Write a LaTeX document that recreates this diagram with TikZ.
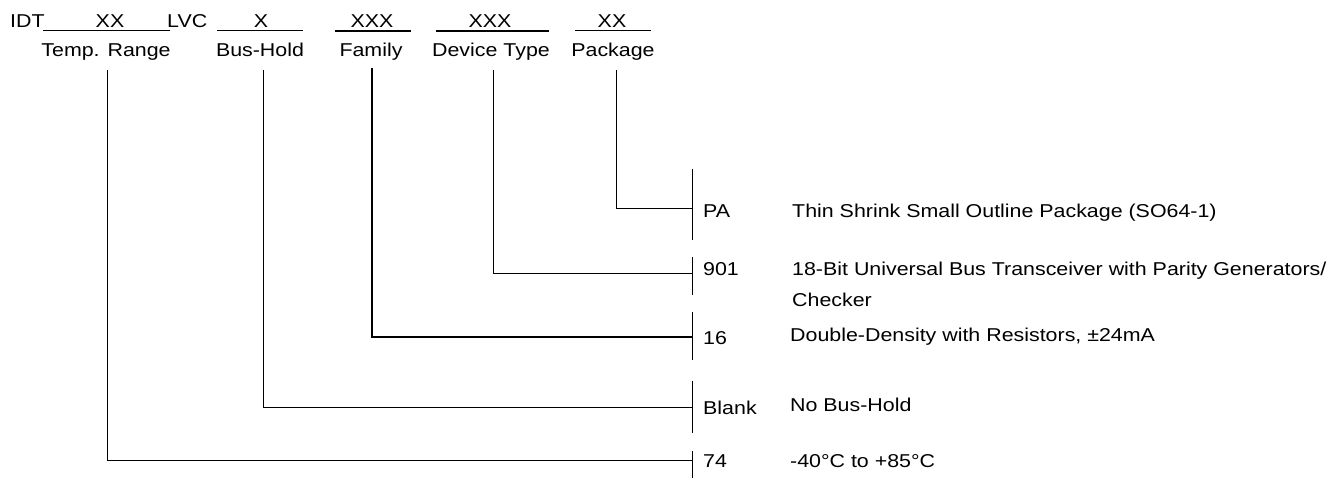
\documentclass[tikz,border=0pt]{standalone}
\usepackage{fontspec}
\setmainfont{Liberation Sans}[FakeStretch=1.15]
\begin{document}
\begin{tikzpicture}[x=1pt,y=-1pt,
  txt/.style={inner sep=0pt, font=\fontsize{18.6}{22}\selectfont},
  cen/.style={txt, anchor=base},
  lft/.style={txt, anchor=base west},
  lnthin/.style={draw=black, line width=1pt},
  lnthick/.style={draw=black, line width=2pt},
  bar/.style={draw=black, line width=1pt}]
\useasboundingbox (0,0) rectangle (1343,481);

% top code row
\node[lft] (idt) at (10,28) {IDT};
\node[cen] (cxx) at (110,28) {XX};
\node[lft] (lvc) at (167,28) {LVC};
\node[cen] (cx) at (261,28) {X};
\node[cen] (cfam) at (372,28) {XXX};
\node[cen] (cdev) at (490,28) {XXX};
\node[cen] (cpkg) at (612,28) {XX};

% underlines
\coordinate (u1a) at (43,31);  \coordinate (u1b) at (170,31);
\coordinate (u2a) at (217,31); \coordinate (u2b) at (303,31);
\coordinate (u3a) at (335,31); \coordinate (u3b) at (411,31);
\coordinate (u4a) at (436,31); \coordinate (u4b) at (549,31);
\coordinate (u5a) at (575,31); \coordinate (u5b) at (651,31);
\draw[lnthin] (u1a) -- (u1b);
\draw[lnthin] (u2a) -- (u2b);
\draw[lnthick] (u3a) -- (u3b);
\draw[lnthick] (u4a) -- (u4b);
\draw[lnthin] (u5a) -- (u5b);

% labels
\node[cen] (ltemp) at (106,57) {Temp. Range};
\node[cen] (lbus) at (260,57) {Bus-Hold};
\node[cen] (lfam) at (371,57) {Family};
\node[cen] (ldev) at (491,57) {Device Type};
\node[cen] (lpkg) at (613,57) {Package};

% start points of leaders
\coordinate (sTemp) at (107,70);
\coordinate (sBus) at (263,70);
\coordinate (sFam) at (372,68);
\coordinate (sDev) at (493,70);
\coordinate (sPkg) at (616,70);

% junctions on the right bars
\coordinate (jPkg) at (692,208);
\coordinate (jDev) at (692,273);
\coordinate (jFam) at (692,337);
\coordinate (jBus) at (692,407);
\coordinate (jTemp) at (692,460);

% bars
\coordinate (b1t) at (692,169); \coordinate (b1b) at (692,240);
\coordinate (b2t) at (692,257); \coordinate (b2b) at (692,295);
\coordinate (b3t) at (692,312); \coordinate (b3b) at (692,360);
\coordinate (b4t) at (692,381); \coordinate (b4b) at (692,433);
\coordinate (b5t) at (692,451); \coordinate (b5b) at (692,478);
\draw[bar] (b1t) -- (b1b);
\draw[bar] (b2t) -- (b2b);
\draw[bar] (b3t) -- (b3b);
\draw[bar] (b4t) -- (b4b);
\draw[bar] (b5t) -- (b5b);

% leaders
\draw[lnthin] (sPkg) |- (jPkg);
\draw[lnthin] (sDev) |- (jDev);
\draw[lnthin, line width=1.6pt] (sFam) |- (jFam);
\draw[lnthin] (sBus) |- (jBus);
\draw[lnthin] (sTemp) |- (jTemp);

% right side codes and descriptions
\node[lft] (kPA) at (703,217) {PA};
\node[lft] (dPA) at (792,217) {Thin Shrink Small Outline Package (SO64-1)};
\node[lft] (k901) at (703,275) {901};
\node[lft] (d901) at (792,275) {18-Bit Universal Bus Transceiver with Parity Generators/};
\node[lft] (d901b) at (792,306) {Checker};
\node[lft] (k16) at (703,344) {16};
\node[lft] (d16) at (790,341) {Double-Density with Resistors, ±24mA};
\node[lft] (kBl) at (703,414) {Blank};
\node[lft] (dBl) at (790,411) {No Bus-Hold};
\node[lft] (k74) at (703,467) {74};
\node[lft] (d74) at (790,467) {-40°C to +85°C};
\end{tikzpicture}
\end{document}
